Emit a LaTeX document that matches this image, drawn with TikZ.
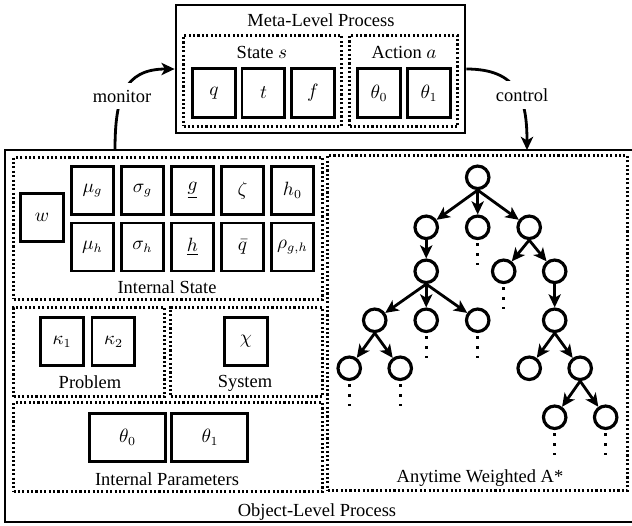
\documentclass[tikz,border=0pt]{standalone}
\usepackage{amsmath}
\usepackage{fontspec}
\setmainfont{Liberation Serif}
\usepackage{tikz}
\usetikzlibrary{arrows.meta,positioning}

\begin{document}
\begin{tikzpicture}[
  x=0.02cm, y=-0.02cm,
  every node/.style={font=\fontsize{10.5pt}{12.5pt}\selectfont},
  frame/.style={draw, line width=1.6pt, inner sep=0pt},
  group/.style={draw, line width=1.2pt, dash pattern=on 1.2pt off 1.3pt, inner sep=0pt},
  box/.style={draw, line width=1.7pt, minimum width=0.86cm, minimum height=0.96cm, inner sep=0pt},
  vtx/.style={circle, draw, line width=1.8pt, minimum size=0.45cm, inner sep=0pt},
  link/.style={-{Stealth[length=7.5pt,width=7pt,inset=2pt]}, line width=1.6pt},
  more/.style={line width=1.7pt, dash pattern=on 1.7pt off 4pt},
  tag/.style={fill=white, inner sep=4pt},
  node distance=1cm
  ]
  \useasboundingbox (0,0) rectangle (632,525);

  % Meta-level process
  \node[frame, minimum width=5.78cm, minimum height=2.56cm] (meta) at (320.5,69) {};
  \node (metalbl) at (321,20) {Meta-Level Process};

  % State
  \node[group, minimum width=3.16cm, minimum height=1.82cm] (stategrp) at (262.5,81) {};
  \node (statelbl) at (262,52) {State $s$};
  \node[box, minimum height=0.98cm] (q) at (214,93) {$q$};
  \node[box, minimum height=0.98cm, right of=q, node distance=0.99cm] (t) {$t$};
  \node[box, minimum height=0.98cm, right of=t, node distance=0.99cm] (f) {$f$};

  % Action
  \node[group, minimum width=2.16cm, minimum height=1.82cm] (actgrp) at (403.5,81) {};
  \node (actlbl) at (404,52) {Action $a$};
  \node[box, minimum height=0.98cm] (act0) at (379,93) {$\theta_0$};
  \node[box, minimum height=0.98cm, right of=act0] (act1) {$\theta_1$};

  % Object-level process
  \node[frame, minimum width=12.8cm, minimum height=7.44cm] (obj) at (325,336) {};
  \node (objlbl) at (317,512) {Object-Level Process};

  % Internal state
  \node[group, minimum width=6.18cm, minimum height=2.84cm] (isgrp) at (168,228.5) {};
  \node (islbl) at (167,287) {Internal State};
  \node[box] (w) at (42,217.5) {$w$};
  \node[box, minimum width=0.84cm] (mug) at (92.5,190.5) {$\mu_g$};
  \node[box, minimum width=0.84cm, right of=mug] (sigg) {$\sigma_g$};
  \node[box, minimum width=0.84cm, right of=sigg] (glow) {$\underline{g}$};
  \node[box, minimum width=0.84cm, right of=glow] (zeta) {$\zeta$};
  \node[box, minimum width=0.84cm, right of=zeta] (hzero) {$h_0$};
  \node[box, minimum width=0.84cm, below of=mug, node distance=1.13cm] (muh) {$\mu_h$};
  \node[box, minimum width=0.84cm, right of=muh] (sigh) {$\sigma_h$};
  \node[box, minimum width=0.84cm, right of=sigh] (hlow) {$\underline{h}$};
  \node[box, minimum width=0.84cm, right of=hlow] (qbar) {$\bar{q}$};
  \node[box, minimum width=0.84cm, right of=qbar] (rho) {$\rho_{g,h}$};

  % Problem and system
  \node[group, minimum width=3.02cm, minimum height=1.78cm] (probgrp) at (89,352) {};
  \node (problbl) at (90,382) {Problem};
  \node[box] (kap1) at (62,341.5) {$\kappa_1$};
  \node[box, right of=kap1, node distance=1.03cm] (kap2) {$\kappa_2$};
  \node[group, minimum width=3.04cm, minimum height=1.78cm] (sysgrp) at (246.5,352) {};
  \node (syslbl) at (245,383) {System};
  \node[box] (chi) at (246,341.5) {$\chi$};

  % Internal parameters
  \node[group, minimum width=6.18cm, minimum height=1.78cm] (pargrp) at (168,447) {};
  \node (parlbl) at (167,479) {Internal Parameters};
  \node[box, minimum width=1.52cm] (th0) at (127.5,437.5) {$\theta_0$};
  \node[box, minimum width=1.52cm, right of=th0, node distance=1.65cm] (th1) {$\theta_1$};

  % Search tree
  \node[group, minimum width=6.0cm, minimum height=6.7cm] (treegrp) at (477.5,323) {};
  \node (treelbl) at (480,478) {Anytime Weighted A*};
  \node[vtx] (n0) at (477.7,177.3) {};
  \node[vtx, below of=n0, xshift=-1.03cm] (n1a) {};
  \node[vtx, below of=n0] (n1b) {};
  \node[vtx, below of=n0, xshift=1.03cm] (n1c) {};
  \node[vtx, below of=n1a, node distance=0.88cm] (n2a) {};
  \node[vtx, below of=n1c, node distance=0.88cm, xshift=-0.51cm] (n2b) {};
  \node[vtx, below of=n1c, node distance=0.88cm, xshift=0.51cm] (n2c) {};
  \node[vtx, below of=n2a, node distance=0.98cm, xshift=-1.03cm] (n3a) {};
  \node[vtx, below of=n2a, node distance=0.98cm] (n3b) {};
  \node[vtx, below of=n2a, node distance=0.98cm, xshift=1.03cm] (n3c) {};
  \node[vtx, below of=n2c, node distance=0.98cm] (n3d) {};
  \node[vtx, below of=n3a, node distance=0.96cm, xshift=-0.51cm] (n4a) {};
  \node[vtx, below of=n3a, node distance=0.96cm, xshift=0.51cm] (n4b) {};
  \node[vtx, below of=n3d, node distance=0.96cm, xshift=-0.51cm] (n4c) {};
  \node[vtx, below of=n3d, node distance=0.96cm, xshift=0.51cm] (n4d) {};
  \node[vtx, below of=n4d, node distance=0.98cm, xshift=-0.51cm] (n5a) {};
  \node[vtx, below of=n4d, node distance=0.98cm, xshift=0.51cm] (n5b) {};

  % Tree edges
  \draw[link] (n0.south) -- (n1a);
  \draw[link] (n0.south) -- (n1b);
  \draw[link] (n0.south) -- (n1c);
  \draw[link] (n1a) -- (n2a);
  \draw[link] (n1c.south) -- (n2b);
  \draw[link] (n1c.south) -- (n2c);
  \draw[link] (n2a.south) -- (n3a);
  \draw[link] (n2a.south) -- (n3b);
  \draw[link] (n2a.south) -- (n3c);
  \draw[link] (n2c) -- (n3d);
  \draw[link] (n3a.south) -- (n4a);
  \draw[link] (n3a.south) -- (n4b);
  \draw[link] (n3d.south) -- (n4c);
  \draw[link] (n3d.south) -- (n4d);
  \draw[link] (n4d.south) -- (n5a);
  \draw[link] (n4d.south) -- (n5b);
  \foreach \n in {n1b,n2b,n3b,n3c,n4a,n4b,n5a,n5b}
    \draw[more] ([yshift=-0.06cm]\n.south) -- ++(0,22);

  % Monitor and control
  \coordinate (mon) at (115,150);
  \coordinate (ctl) at (527,150);
  \draw[link] (mon) to[out=90, in=180, looseness=1.3] (meta.west);
  \draw[link] (meta.east) to[out=0, in=90, looseness=1.3] (ctl);
  \node[tag] (monlbl) at (122,96) {monitor};
  \node[tag] (ctllbl) at (522,95) {control};
\end{tikzpicture}
\end{document}
